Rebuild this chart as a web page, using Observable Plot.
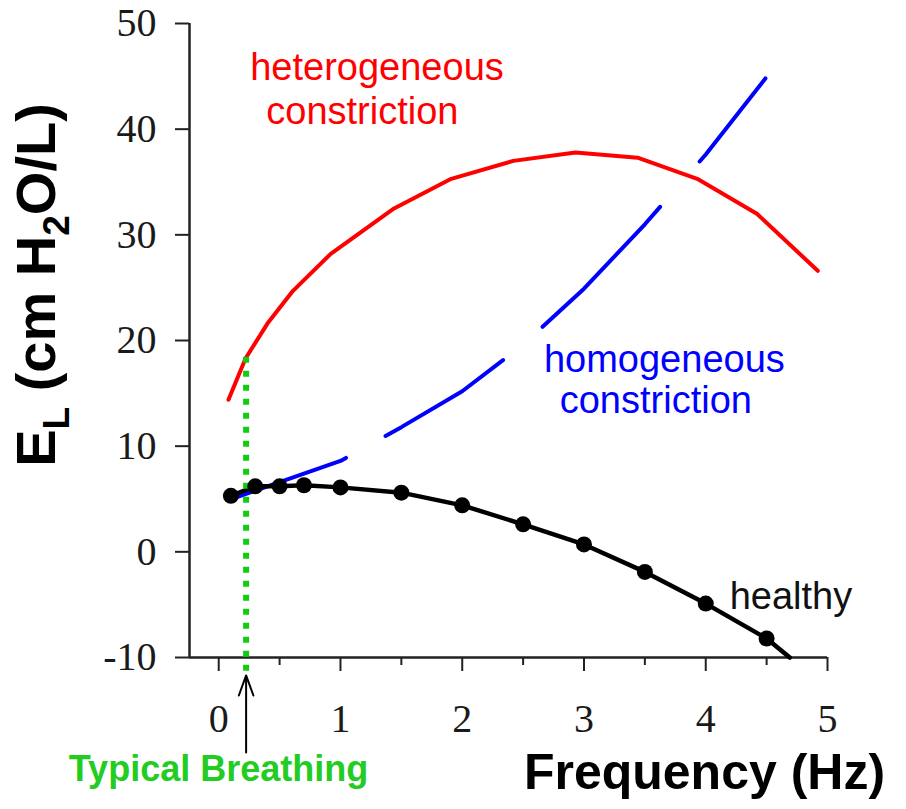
<!DOCTYPE html>
<html>
<head>
<meta charset="utf-8">
<script src="https://cdn.jsdelivr.net/npm/d3@7"></script>
<script src="https://cdn.jsdelivr.net/npm/@observablehq/plot@0.6"></script>
<style>
  html, body { margin: 0; padding: 0; background: #fff; }
  #chart { width: 906px; height: 809px; }
</style>
</head>
<body>
<div id="chart"></div>
<script>
// Lung elastance vs. oscillation frequency
const healthyFreq = [0.1, 0.3, 0.5, 0.7, 1, 1.5, 2, 2.5, 3, 3.5, 4, 4.5];
const healthyEL   = [5.3, 6.2, 6.2, 6.3, 6.1, 5.6, 4.4, 2.6, 0.7, -1.9, -4.9, -8.2];
// the healthy curve runs on until it meets the bottom of the frame
const healthyEndFreq = 4.69;
const healthyEndEL = -10;

const heteroFreq = [0.08, 0.22, 0.40, 0.61, 0.92, 1.44, 1.91, 2.42, 2.93, 3.44, 3.93, 4.42, 4.92];
const heteroEL   = [14.4, 18.3, 21.6, 24.7, 28.2, 32.5, 35.3, 37.0, 37.8, 37.3, 35.3, 32.0, 26.6];

const homoFreq = [0.08, 0.5, 1, 1.5, 2, 2.5, 3, 3.5, 4, 4.49];
const homoEL   = [4.9, 6.6, 8.6, 11.8, 15.2, 19.6, 24.9, 31.0, 37.6, 44.8];

const breathingFreq = 0.225;
const breathingTopEL = 18.7;

const yTicks = [-10, 0, 10, 20, 30, 40, 50];
const xTicks = [0, 1, 2, 3, 4, 5];
const xMinorTicks = [0.5, 1.5, 2.5, 3.5, 4.5];

const xMin = -0.24;
const sans = "Liberation Sans, Arial, sans-serif";
const serif = "Liberation Serif, Times New Roman, serif";

const healthy = healthyFreq.map((f, i) => ({f, e: healthyEL[i]}));
const healthyCurve = [...healthy, {f: healthyEndFreq, e: healthyEndEL}];
const hetero = heteroFreq.map((f, i) => ({f, e: heteroEL[i]}));
const homo = homoFreq.map((f, i) => ({f, e: homoEL[i]}));

const labels = [
  {f: 1.30, e: 44.7, text: "heterogeneous", color: "#ff0000"},
  {f: 1.18, e: 40.5, text: "constriction", color: "#ff0000"},
  {f: 3.66, e: 17.0, text: "homogeneous", color: "#0000ff"},
  {f: 3.59, e: 13.1, text: "constriction", color: "#0000ff"},
  {f: 4.70, e: -5.4, text: "healthy", color: "#111111"}
];

const plot = Plot.plot({
  width: 906,
  height: 809,
  marginLeft: 189,
  marginRight: 79,
  marginTop: 23,
  marginBottom: 152,
  x: {domain: [xMin, 5]},
  y: {domain: [-10, 50]},
  style: {background: "white", fontFamily: sans},
  marks: [
    // frame lines
    Plot.ruleX([xMin], {y1: -10, y2: 50, stroke: "#222", strokeWidth: 2.5}),
    Plot.ruleY([-10], {x1: xMin, x2: 5, stroke: "#222", strokeWidth: 2.5}),
    Plot.axisY(yTicks, {
      tickSize: 14, tickPadding: 19, tickFormat: d => String(d),
      fontSize: 40, fontFamily: serif, fill: "#1a1a1a",
      stroke: "#222", strokeWidth: 2, label: null
    }),
    Plot.axisX(xTicks, {
      tickSize: 14, tickPadding: 32, tickFormat: d => String(d),
      fontSize: 40, fontFamily: serif, fill: "#1a1a1a",
      stroke: "#222", strokeWidth: 2, label: null
    }),
    Plot.axisX(xMinorTicks, {
      tickSize: 8, tickFormat: () => "", stroke: "#222", strokeWidth: 2, label: null
    }),
    // curves
    Plot.line(hetero, {x: "f", y: "e", stroke: "#ff0000", strokeWidth: 4}),
    Plot.line(homo, {x: "f", y: "e", stroke: "#0000ff", strokeWidth: 4}),
    Plot.line(healthyCurve, {x: "f", y: "e", stroke: "black", strokeWidth: 4.5}),
    // typical breathing frequency marker
    Plot.ruleX([breathingFreq], {
      y1: -11.3, y2: breathingTopEL, stroke: "#11cc11", strokeWidth: 6,
      strokeDasharray: "6,8", strokeLinecap: "butt"
    }),
    Plot.dot(healthy, {x: "f", y: "e", r: 8, fill: "black"}),
    Plot.arrow([0], {
      x1: breathingFreq, x2: breathingFreq, y1: -19, y2: -11.7,
      stroke: "black", strokeWidth: 2, headLength: 16, headAngle: 40
    }),
    Plot.text(labels, {
      x: "f", y: "e", text: "text", fill: "color",
      fontSize: 38, fontFamily: sans, textAnchor: "middle", lineAnchor: "bottom"
    })
  ]
});

document.getElementById("chart").append(plot);

// long-dash pattern of the homogeneous curve, measured along frequency
const xs = plot.scale("x");
const homoDash = 0.965, homoGap = 0.325;
plot.querySelectorAll('[stroke="#0000ff"]').forEach(node => {
  const path = node.tagName === "path" ? node : node.querySelector("path");
  if (!path) return;
  const L = path.getTotalLength();
  const lenAt = v => {
    const px = xs.apply(v);
    let lo = 0, hi = L;
    for (let i = 0; i < 40; i++) {
      const m = (lo + hi) / 2;
      if (path.getPointAtLength(m).x < px) lo = m; else hi = m;
    }
    return (lo + hi) / 2;
  };
  const end = homoFreq[homoFreq.length - 1];
  const stops = [];
  let v = homoFreq[0], on = true;
  while (true) {
    v += on ? homoDash : homoGap;
    if (v >= end) break;
    stops.push(lenAt(v));
    on = !on;
  }
  const arr = [];
  let prev = 0;
  for (const s of stops) { arr.push(s - prev); prev = s; }
  arr.push(L - prev + 10);
  if (arr.length % 2) arr.push(0);
  path.setAttribute("stroke-dasharray", arr.map(d => d.toFixed(2)).join(","));
});

// axis titles
const svg = d3.select(plot);
const yl = svg.append("text")
  .attr("transform", "translate(55,285) rotate(-90)")
  .attr("text-anchor", "middle")
  .attr("font-family", sans)
  .attr("font-weight", "bold")
  .attr("font-size", 56)
  .attr("fill", "black");
yl.append("tspan").text("E");
yl.append("tspan").attr("font-size", 37).attr("dy", 14).text("L");
yl.append("tspan").attr("dy", -14).text(" (cm H");
yl.append("tspan").attr("font-size", 37).attr("dy", 14).text("2");
yl.append("tspan").attr("dy", -14).text("O/L)");

svg.append("text")
  .attr("x", 704.5).attr("y", 789)
  .attr("text-anchor", "middle")
  .attr("font-family", sans).attr("font-weight", "bold")
  .attr("font-size", 50).attr("fill", "black")
  .text("Frequency (Hz)");

svg.append("text")
  .attr("x", 218.5).attr("y", 781)
  .attr("text-anchor", "middle")
  .attr("font-family", sans).attr("font-weight", "bold")
  .attr("font-size", 36).attr("fill", "#22cc22")
  .text("Typical Breathing");
</script>
</body>
</html>
